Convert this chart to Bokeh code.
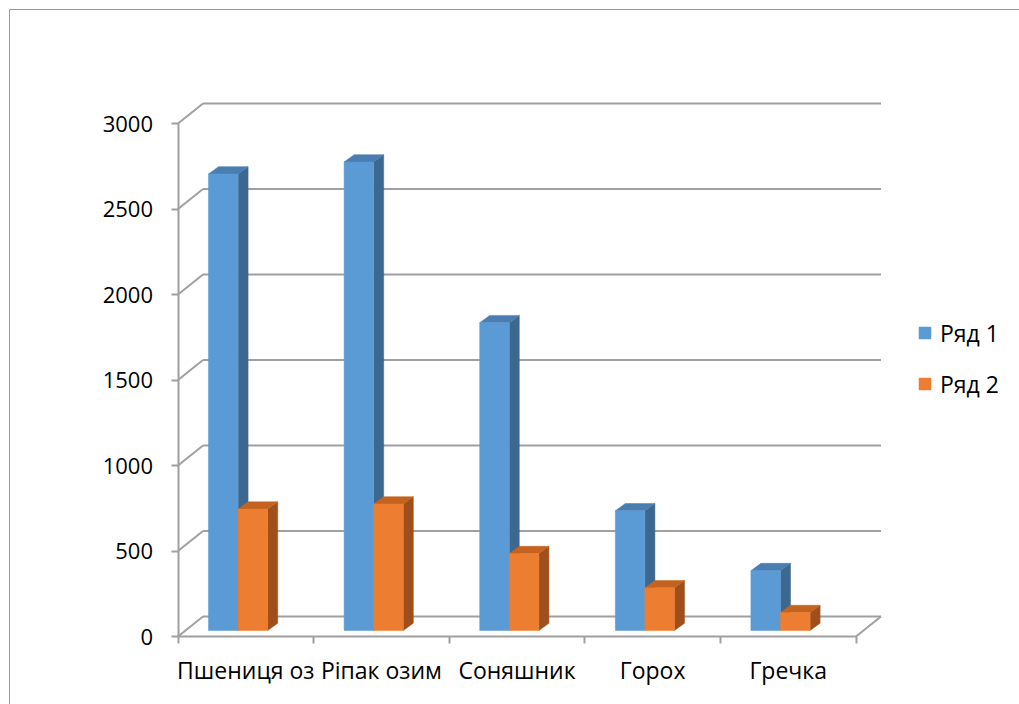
from bokeh.plotting import figure
from bokeh.models import Range1d, FixedTicker, LinearAxis, Legend, LegendItem
from bokeh.embed import file_html
from bokeh.resources import INLINE

# ---------------- data ----------------
categories = ["Пшениця оз", "Ріпак озим", "Соняшник", "Горох", "Гречка"]
series_names = ["Ряд 1", "Ряд 2"]
row1 = [2670, 2740, 1800, 700, 350]
row2 = [710, 740, 450, 250, 105]
y_ticks = [0, 500, 1000, 1500, 2000, 2500, 3000]

# ---------------- geometry (pixels -> data) ----------------
W, H = 1019, 704
AX_X = 177.5          # pixel x of the front value axis
AX_Y = 636.0          # pixel y of value 0 on the front plane
CAT_PX = 135.6        # pixels per category
VAL_PX = 513.0 / 3000 # pixels per value unit

DX = 25 / CAT_PX      # depth of the floor (x)
DV = 20 / VAL_PX      # depth of the floor (y)
FV = 6 / VAL_PX       # bar front face lift
BX = 10 / CAT_PX      # bar depth (x)
BV = 7.3 / VAL_PX     # bar depth (y)
BAR_OFF = 30.5 / CAT_PX
BAR_W = 29.6 / CAT_PX

GRID = "#a0a0a0"
FONT = "Open Sans"
FS = "22px"
FS_CAT = "23px"

colors = {
    0: ("#5B9BD5", "#4A7DB1", "#3C6890"),
    1: ("#ED7D31", "#C4631F", "#9E4F1C"),
}

x_range = Range1d(-AX_X / CAT_PX, (W - AX_X) / CAT_PX)
y_range = Range1d(-(H - AX_Y) / VAL_PX, AX_Y / VAL_PX)

p = figure(width=W, height=H, x_range=x_range, y_range=y_range,
           output_backend="svg", toolbar_location=None,
           x_axis_location=None, y_axis_location=None, min_border=0)
p.title.visible = False
p.grid.visible = False
p.outline_line_color = None
p.background_fill_color = "white"
p.border_fill_color = "white"

n = len(categories)

# outer chart-area border (top and left edges visible)
bx = (9 - AX_X) / CAT_PX
by = (AX_Y - 9) / VAL_PX
p.segment(x0=[bx, bx], y0=[by, y_range.start], x1=[x_range.end, bx], y1=[by, by],
          line_color="#9a9a9a", line_width=1)

# back wall gridlines + side diagonals
gx0, gy0, gx1, gy1 = [], [], [], []
for t in y_ticks:
    gx0 += [DX, 0]
    gy0 += [t + DV, t]
    gx1 += [n + DX, DX]
    gy1 += [t + DV, t + DV]
# floor right edge
gx0.append(n); gy0.append(0); gx1.append(n + DX); gy1.append(DV)
p.segment(x0=gx0, y0=gy0, x1=gx1, y1=gy1, line_color=GRID, line_width=2)


def bar_faces(values, k):
    fr_x, fr_y, tp_x, tp_y, sd_x, sd_y = [], [], [], [], [], []
    for i, v in enumerate(values):
        x0 = i + BAR_OFF + k * BAR_W
        x1 = x0 + BAR_W
        b = FV
        t = v + FV
        fr_x.append([x0, x1, x1, x0]); fr_y.append([b, b, t, t])
        tp_x.append([x0, x1, x1 + BX, x0 + BX]); tp_y.append([t, t, t + BV, t + BV])
        sd_x.append([x1, x1 + BX, x1 + BX, x1]); sd_y.append([b, b + BV, t + BV, t])
    return (fr_x, fr_y), (tp_x, tp_y), (sd_x, sd_y)


front_renderers = []
for k, vals in enumerate([row1, row2]):
    (fx, fy), (tx, ty), (sx, sy) = bar_faces(vals, k)
    cf, ct, cs = colors[k]
    p.patches(xs=sx, ys=sy, fill_color=cs, line_color=cs, line_width=0.5)
    p.patches(xs=tx, ys=ty, fill_color=ct, line_color=ct, line_width=0.5)
    r = p.patches(xs=fx, ys=fy, fill_color=cf, line_color=cf, line_width=0.5)
    front_renderers.append(r)

# value axis on the front plane
yax = LinearAxis(fixed_location=0, bounds=(0, 3000), ticker=FixedTicker(ticks=y_ticks),
                 axis_line_color=GRID, axis_line_width=2,
                 major_tick_line_color=GRID, major_tick_line_width=2,
                 major_tick_out=7, major_tick_in=0, minor_tick_out=0, minor_tick_in=0,
                 major_label_standoff=18, major_label_text_font=FONT,
                 major_label_text_font_size=FS, major_label_text_color="black")
p.add_layout(yax, "left")

# floor front edge with category boundary ticks
xtick_ax = LinearAxis(fixed_location=0, bounds=(0, n), ticker=FixedTicker(ticks=list(range(n + 1))),
                      axis_line_color=GRID, axis_line_width=2,
                      major_tick_line_color=GRID, major_tick_line_width=2,
                      major_tick_out=7, major_tick_in=0, minor_tick_out=0, minor_tick_in=0,
                      major_label_text_alpha=0, major_label_text_font_size="1px")
p.add_layout(xtick_ax, "below")

# category labels at category centres
centers = [i + 0.5 for i in range(n)]
xlab_ax = LinearAxis(fixed_location=0, ticker=FixedTicker(ticks=centers),
                     major_label_overrides={c: name for c, name in zip(centers, categories)},
                     axis_line_color=None, major_tick_line_color=None,
                     major_tick_out=0, major_tick_in=0, minor_tick_out=0, minor_tick_in=0,
                     major_label_standoff=17, major_label_text_font=FONT,
                     major_label_text_font_size=FS_CAT, major_label_text_color="black")
p.add_layout(xlab_ax, "below")

legend = Legend(items=[LegendItem(label=series_names[0], renderers=[front_renderers[0]]),
                       LegendItem(label=series_names[1], renderers=[front_renderers[1]])],
                location=(917, 304.5), padding=0, margin=0, spacing=19,
                glyph_width=15, glyph_height=15, label_height=30, label_standoff=8,
                label_text_font=FONT, label_text_font_size=FS_CAT, label_text_color="black",
                border_line_color=None, background_fill_alpha=0)
p.add_layout(legend)

open("out.html", "w").write(file_html(p, INLINE))
